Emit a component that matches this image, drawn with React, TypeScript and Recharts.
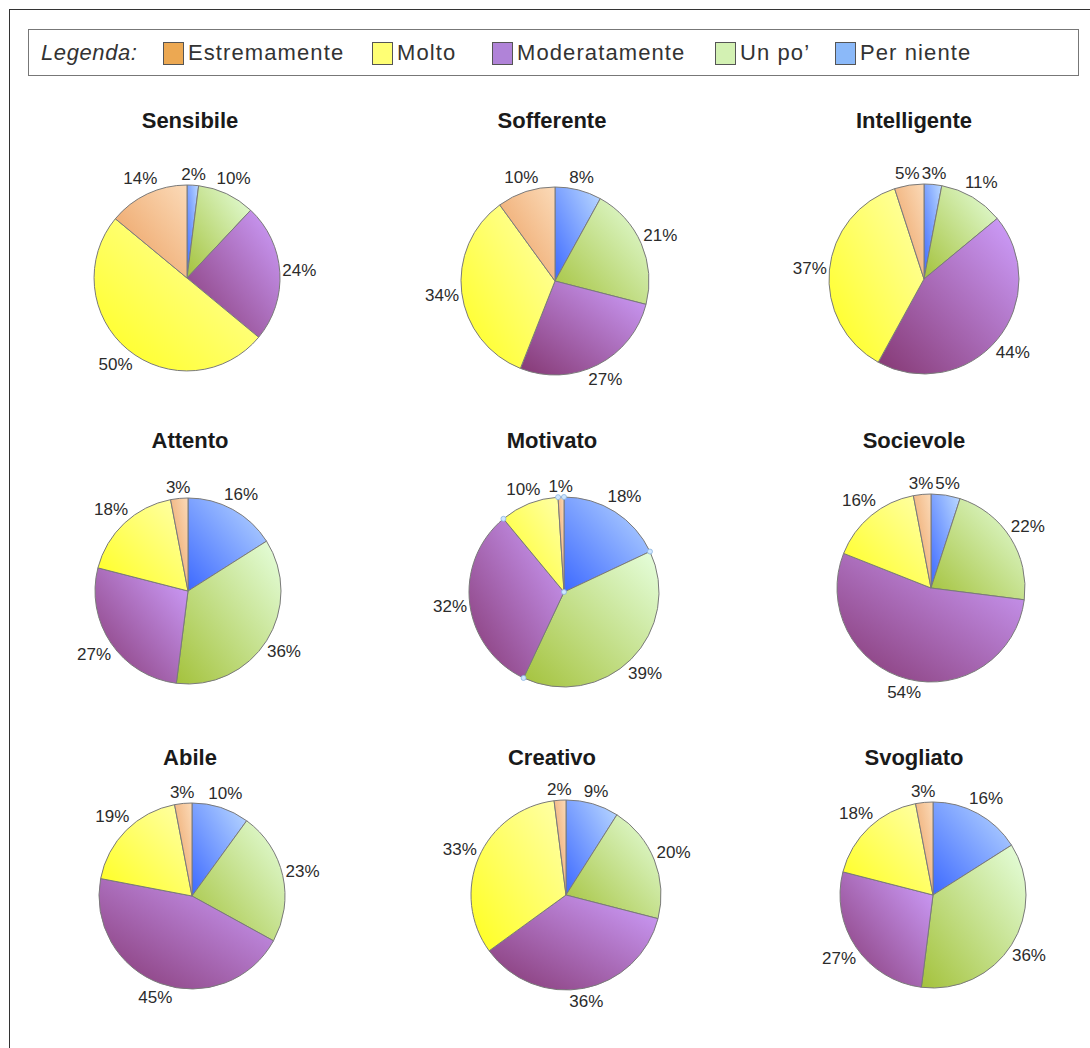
import { Cell, Pie, PieChart } from 'recharts'

// slices go clockwise from 12 o'clock in this order
const CATEGORIES = ['Per niente', 'Un po’', 'Moderatamente', 'Molto', 'Estremamente']
const LEGEND_ORDER = ['Estremamente', 'Molto', 'Moderatamente', 'Un po’', 'Per niente']

const TRAITS = [
	'Sensibile',
	'Sofferente',
	'Intelligente',
	'Attento',
	'Motivato',
	'Socievole',
	'Abile',
	'Creativo',
	'Svogliato',
]

const SENSIBILE = [2, 10, 24, 50, 14]
const SOFFERENTE = [8, 21, 27, 34, 10]
const INTELLIGENTE = [3, 11, 44, 37, 5]
const ATTENTO = [16, 36, 27, 18, 3]
const MOTIVATO = [18, 39, 32, 10, 1]
const SOCIEVOLE = [5, 22, 54, 16, 3]
const ABILE = [10, 23, 45, 19, 3]
const CREATIVO = [9, 20, 36, 33, 2]
const SVOGLIATO = [16, 36, 27, 18, 3]

const VALUES = [
	SENSIBILE,
	SOFFERENTE,
	INTELLIGENTE,
	ATTENTO,
	MOTIVATO,
	SOCIEVOLE,
	ABILE,
	CREATIVO,
	SVOGLIATO,
]

// dark (bottom-left) -> light (top-right)
const GRADIENT: Record<string, [string, string]> = {
	'Per niente': ['#3d69ff', '#bcdaff'],
	'Un po’': ['#a4c23c', '#e6ffde'],
	Moderatamente: ['#853873', '#cfa0ff'],
	Molto: ['#ffff1e', '#ffffac'],
	Estremamente: ['#eb9c5a', '#fbdab8'],
}

const SWATCH: Record<string, string> = {
	Estremamente: '#eca852',
	Molto: '#ffff74',
	Moderatamente: '#b083d8',
	'Un po’': '#d3f1b3',
	'Per niente': '#8bb9f9',
}

// layout
const PIE_POS = [
	{ cx: 187, cy: 278, r: 93 },
	{ cx: 555, cy: 281, r: 94 },
	{ cx: 924, cy: 279, r: 95 },
	{ cx: 188, cy: 591, r: 93 },
	{ cx: 564, cy: 592, r: 95 },
	{ cx: 931, cy: 588, r: 94 },
	{ cx: 192, cy: 896, r: 93 },
	{ cx: 566, cy: 895, r: 95 },
	{ cx: 933, cy: 895, r: 93 },
]
const TITLE_X = [190, 552, 914]
const TITLE_TOP = [110, 430, 747]
const LEGEND_X = [163, 372, 492, 715, 835]

const FONT = '"Liberation Sans", Arial, Helvetica, sans-serif'
const RAD = Math.PI / 180

const slug = (s: string) => s.replace(/[^a-z]/gi, '').toLowerCase()

const makeLabel = (handles: boolean) => (p: any) => {
	const txt = `${p.value}%`
	const w = (txt.length - 1) * 9.5 + 15
	const c = Math.cos(-p.midAngle * RAD)
	const s = Math.sin(-p.midAngle * RAD)
	const d = p.outerRadius + 2 + (w / 2) * Math.abs(c) + 8 * Math.abs(s)
	const hx = p.cx + p.outerRadius * Math.cos(-p.startAngle * RAD)
	const hy = p.cy + p.outerRadius * Math.sin(-p.startAngle * RAD)
	return (
		<g key={`lbl-${p.index}`}>
			<text
				x={p.cx + d * c}
				y={p.cy + d * s}
				textAnchor='middle'
				dominantBaseline='central'
				fontFamily={FONT}
				fontSize={17}
				fill='#2b2b2b'
			>
				{txt}
			</text>
			{handles && (
				<>
					<circle cx={hx} cy={hy} r={2.5} fill='#cfe6ff' stroke='#8ab4e0' strokeWidth={0.8} />
					{p.index === 0 && (
						<circle cx={p.cx} cy={p.cy} r={2.5} fill='#cfe6ff' stroke='#8ab4e0' strokeWidth={0.8} />
					)}
				</>
			)}
		</g>
	)
}

export default function App() {
	return (
		<div
			style={{
				position: 'absolute',
				left: 0,
				top: 0,
				width: 1090,
				height: 1048,
				background: '#fff',
				overflow: 'hidden',
				fontFamily: FONT,
			}}
		>
			{/* outer frame, only top and left edges visible */}
			<div
				style={{
					position: 'absolute',
					left: 9,
					top: 9,
					width: 1100,
					height: 1100,
					borderTop: '1.5px solid #333',
					borderLeft: '1.5px solid #333',
				}}
			/>
			{/* legend */}
			<div
				style={{
					position: 'absolute',
					left: 28,
					top: 29,
					width: 1049,
					height: 45,
					border: '1px solid #777',
				}}
			/>
			<div
				style={{
					position: 'absolute',
					left: 41,
					top: 40,
					fontSize: 22,
					lineHeight: '26px',
					fontStyle: 'italic',
					color: '#333',
					letterSpacing: 0.6,
				}}
			>
				Legenda:
			</div>
			{LEGEND_ORDER.map((name, i) => (
				<div
					key={name}
					style={{
						position: 'absolute',
						left: LEGEND_X[i],
						top: 41,
						display: 'flex',
						alignItems: 'center',
						height: 24,
					}}
				>
					<span
						style={{
							display: 'inline-block',
							width: 19,
							height: 21,
							background: SWATCH[name],
							border: '1px solid #555',
							marginRight: 4,
						}}
					/>
					<span style={{ fontSize: 22, color: '#333', letterSpacing: 1.1 }}>{name}</span>
				</div>
			))}
			{/* titles */}
			{TRAITS.map((t, i) => (
				<div
					key={t}
					style={{
						position: 'absolute',
						left: TITLE_X[i % 3] - 120,
						top: TITLE_TOP[Math.floor(i / 3)],
						width: 240,
						textAlign: 'center',
						fontSize: 22,
						lineHeight: '22px',
						fontWeight: 'bold',
						color: '#1a1a1a',
					}}
				>
					{t}
				</div>
			))}
			<div style={{ position: 'absolute', left: 0, top: 0 }}>
				<PieChart width={1090} height={1048} margin={{ top: 0, right: 0, bottom: 0, left: 0 }}>
					<defs>
						{CATEGORIES.map(c => (
							<linearGradient key={c} id={`g-${slug(c)}`} x1='0' y1='1' x2='1' y2='0'>
								<stop offset='0%' stopColor={GRADIENT[c][0]} />
								<stop offset='100%' stopColor={GRADIENT[c][1]} />
							</linearGradient>
						))}
					</defs>
					{VALUES.map((vals, i) => {
						const data = CATEGORIES.map((name, k) => ({ name, value: vals[k] }))
						const pos = PIE_POS[i]
						return (
							<Pie
								key={TRAITS[i]}
								data={data}
								dataKey='value'
								nameKey='name'
								cx={pos.cx}
								cy={pos.cy}
								outerRadius={pos.r}
								startAngle={90}
								endAngle={-270}
								stroke='#7a7a7a'
								strokeWidth={1}
								labelLine={false}
								label={makeLabel(TRAITS[i] === 'Motivato')}
								isAnimationActive={false}
							>
								{data.map(d => (
									<Cell key={d.name} fill={`url(#g-${slug(d.name)})`} />
								))}
							</Pie>
						)
					})}
				</PieChart>
			</div>
		</div>
	)
}
